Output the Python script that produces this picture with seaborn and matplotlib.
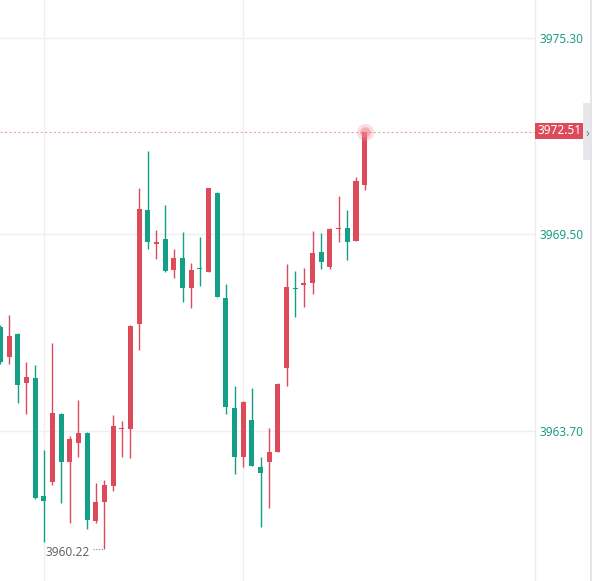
import matplotlib.pyplot as plt
import matplotlib.patches as mpatches
import numpy as np
import seaborn as sns
import pandas as pd

sns.set_theme(style="white")
plt.rcParams['font.family'] = ['Noto Sans', 'DejaVu Sans']

# OHLC candles (red = up, green = down)
opens = [3966.77, 3965.88, 3966.56, 3965.12, 3965.26, 3961.78, 3962.19, 3964.20, 3962.79, 3963.35,
         3963.64, 3961.04, 3961.60, 3962.08, 3963.76, 3963.76, 3966.86, 3970.22, 3969.23, 3969.37,
         3968.45, 3968.81, 3967.92, 3968.50, 3968.39, 3970.73, 3967.63, 3964.38, 3962.93, 3964.02,
         3962.64, 3962.79, 3963.08, 3965.56, 3967.91, 3968.02, 3968.07, 3968.98, 3968.54, 3969.65,
         3969.69, 3969.31, 3970.96]
highs = [3966.83, 3967.12, 3966.58, 3965.74, 3965.65, 3963.14, 3966.30, 3964.22, 3963.55, 3964.61,
         3963.66, 3962.17, 3962.25, 3964.17, 3964.00, 3966.82, 3970.87, 3971.96, 3969.63, 3970.37,
         3969.07, 3969.57, 3968.66, 3969.43, 3970.88, 3970.75, 3968.04, 3965.03, 3964.58, 3964.97,
         3962.93, 3963.79, 3965.10, 3968.63, 3968.42, 3968.51, 3969.60, 3969.54, 3969.68, 3970.64,
         3970.22, 3971.20, 3972.53]
lows = [3965.68, 3965.68, 3964.53, 3964.20, 3961.70, 3960.42, 3962.11, 3961.57, 3960.98, 3962.93,
        3960.81, 3960.98, 3960.22, 3961.93, 3962.93, 3962.90, 3966.09, 3969.07, 3968.78, 3968.39,
        3968.22, 3967.51, 3967.33, 3967.98, 3968.38, 3967.64, 3964.20, 3962.43, 3962.64, 3962.65,
        3960.87, 3961.43, 3963.07, 3965.03, 3967.06, 3967.36, 3967.74, 3968.48, 3968.48, 3969.28,
        3968.75, 3969.30, 3970.81]
closes = [3965.74, 3966.50, 3965.06, 3965.29, 3961.72, 3961.63, 3964.23, 3962.79, 3963.46, 3963.64,
          3961.07, 3961.60, 3962.11, 3963.85, 3963.79, 3966.80, 3970.25, 3969.28, 3969.26, 3968.42,
          3968.81, 3967.92, 3968.45, 3968.47, 3970.87, 3967.66, 3964.41, 3962.93, 3964.56, 3962.67,
          3962.46, 3963.08, 3965.09, 3967.95, 3967.88, 3968.05, 3968.95, 3968.69, 3969.66, 3969.68,
          3969.28, 3971.08, 3972.51]

price_ticks = [3975.30, 3969.50, 3963.70]
last_price = 3972.51
low_price = 3960.22

up_color = '#dd4b5a'
down_color = '#13a086'
axis_color = '#1d9e86'

df = pd.DataFrame({'open': opens, 'high': highs, 'low': lows, 'close': closes})
df['idx'] = np.arange(len(df))
df['up'] = df['close'] >= df['open']
df['color'] = np.where(df['up'], up_color, down_color)
df['bottom'] = df[['open', 'close']].min(axis=1)
df['height'] = (df['close'] - df['open']).abs().clip(lower=0.035)

W, H = 596, 581
fig = plt.figure(figsize=(W / 100, H / 100), dpi=100)
fig.patch.set_facecolor('white')
ax = fig.add_axes([0, 0, 535 / W, 1])
ax.set_facecolor('white')

# grid
for t in price_ticks:
    ax.axhline(t, color='#efeff2', lw=1, zorder=0)
for v in [5, 28]:
    ax.axvline(v, color='#efeff2', lw=1, zorder=0)

# candles
ax.vlines(df['idx'], df['low'], df['high'], colors=df['color'], lw=1.0, zorder=2)
ax.bar(df['idx'], df['height'], bottom=df['bottom'], width=0.6, color=df['color'],
       linewidth=0, zorder=3)

# last price line and glow
ax.axhline(last_price, color='#e2a6ae', lw=0.8, ls=(0, (2, 2)), zorder=1)
last = df.iloc[[-1]]
sns.scatterplot(x=last['idx'], y=[last_price], s=150, color='#f08c97', alpha=0.3,
                linewidth=0, ax=ax, zorder=4, legend=False)
sns.scatterplot(x=last['idx'], y=[last_price], s=55, color='#ef7f8b', alpha=0.5,
                linewidth=0, ax=ax, zorder=5, legend=False)

# lowest price marker
low_i = int(np.argmin(lows))
ax.text(low_i - 1.75, low_price - 0.1, f'{low_price:.2f}', ha='right', va='center',
        color='#666666', fontsize=8.5)
ax.plot([low_i - 1.3, low_i - 0.2], [low_price, low_price], color='#8a8a8a', lw=0.8,
        ls=(0, (1, 1.5)))

ax.set_xlim(-0.05, 535 / 8.67 - 0.05)
ax.set_ylim(3959.27, 3976.42)
ax.set_xlabel('')
ax.set_ylabel('')
ax.set_xticks([])
ax.yaxis.tick_right()
ax.set_yticks(price_ticks)
ax.set_yticklabels([f'{t:.2f}' for t in price_ticks])
ax.tick_params(axis='y', length=0, pad=3, labelcolor=axis_color, labelsize=8.5)
for s in ['top', 'left', 'bottom']:
    ax.spines[s].set_visible(False)
ax.spines['right'].set_color('#ececf0')
ax.spines['right'].set_linewidth(1)

# last price tag
fig.patches.append(mpatches.Rectangle((535 / W, 1 - 139 / H), 48 / W, 16 / H,
                                      transform=fig.transFigure, fc=up_color, ec='none'))
fig.text(538 / W, 1 - 131 / H, f'{last_price:.2f}', ha='left', va='center', color='white',
         fontsize=8.5)
fig.patches.append(mpatches.Rectangle((583 / W, 1 - 160 / H), 8 / W, 57 / H,
                                      transform=fig.transFigure, fc='#e7e7eb', ec='none'))
fig.text(587 / W, 1 - 133 / H, '›', ha='center', va='center', color='#7a7a7a', fontsize=9)
fig.patches.append(mpatches.Rectangle((590 / W, 0), 2 / W, 1,
                                      transform=fig.transFigure, fc='#e4e4e9', ec='none'))

fig.savefig('out.png', dpi=100)
